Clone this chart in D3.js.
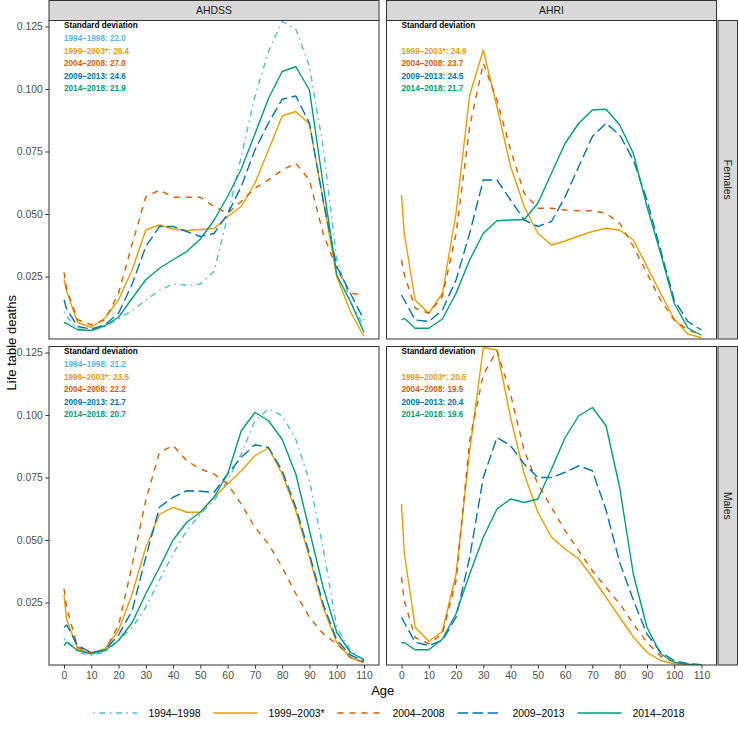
<!DOCTYPE html>
<html><head><meta charset="utf-8">
<script src="https://cdn.jsdelivr.net/npm/d3@7"></script>
<style>
body{margin:0;background:#fff}
svg{display:block;font-family:"Liberation Sans",Arial,Helvetica,sans-serif}
</style>
</head><body>
<svg id="chart" width="738" height="729"></svg>
<script>
// ---------- data ----------
const ages = [0,1,5,10,15,20,25,30,35,40,45,50,55,60,65,70,75,80,85,90,95,100,105,110];
const periods = ["1994–1998","1999–2003*","2004–2008","2009–2013","2014–2018"];
const sites = ["AHDSS","AHRI"];
const sexes = ["Females","Males"];
const xTicks = [0,10,20,30,40,50,60,70,80,90,100,110];
const yTicks = [0.025,0.050,0.075,0.100,0.125];

// AHDSS Females
const ahdssF1994 = [0.011,0.009,0.004,0.0035,0.005,0.008,0.0115,0.0155,0.0195,0.022,0.0215,0.022,0.027,0.049,0.073,0.097,0.115,0.127,0.124,0.109,0.077,0.032,0.015,0.005];
const ahdssF1999 = [0.0239,0.019,0.0066,0.0047,0.0083,0.0157,0.0277,0.0436,0.0456,0.044,0.0434,0.0438,0.0442,0.049,0.053,0.0623,0.0756,0.0892,0.091,0.086,0.0556,0.025,0.011,0.001];
const ahdssF2004 = [0.0267,0.020,0.0077,0.0057,0.0077,0.0183,0.038,0.0569,0.0596,0.0567,0.0567,0.0567,0.053,0.0503,0.055,0.0603,0.0636,0.0676,0.0703,0.0636,0.0423,0.028,0.0183,0.0177];
const ahdssF2009 = [0.0157,0.012,0.005,0.004,0.0057,0.0103,0.022,0.037,0.045,0.045,0.043,0.041,0.0422,0.050,0.061,0.0756,0.0865,0.0959,0.0972,0.0863,0.0556,0.029,0.0183,0.0076];
const ahdssF2014 = [0.0066,0.0062,0.0037,0.0034,0.0053,0.0087,0.0163,0.0237,0.0283,0.0317,0.035,0.040,0.0475,0.057,0.068,0.082,0.0963,0.107,0.1089,0.0996,0.062,0.0256,0.015,0.0027];
// AHRI Females
const ahriF1999 = [0.0576,0.0423,0.0156,0.0103,0.0183,0.0503,0.0976,0.1156,0.0929,0.069,0.053,0.0423,0.0376,0.0392,0.0412,0.043,0.0443,0.0436,0.0396,0.029,0.0183,0.008,0.002,0.0005];
const ahriF2004 = [0.0316,0.026,0.0123,0.0103,0.017,0.042,0.085,0.1103,0.0956,0.0756,0.0583,0.0523,0.0523,0.0516,0.0513,0.0513,0.0503,0.0463,0.037,0.0263,0.0156,0.0076,0.0036,0.0016];
const ahriF2009 = [0.0176,0.0156,0.0076,0.007,0.0116,0.0236,0.0423,0.0636,0.0636,0.0556,0.0476,0.045,0.047,0.0569,0.069,0.081,0.0863,0.0816,0.0716,0.0556,0.0356,0.0156,0.007,0.0036];
const ahriF2014 = [0.0076,0.0083,0.0043,0.0043,0.008,0.0183,0.0316,0.0423,0.0473,0.0476,0.0478,0.0543,0.0663,0.0783,0.0863,0.0916,0.0919,0.0856,0.0743,0.053,0.0343,0.0143,0.0044,0.0015];
// AHDSS Males
const ahdssM1994 = [0.0105,0.010,0.0051,0.0038,0.0051,0.0098,0.015,0.0231,0.034,0.0444,0.0538,0.0604,0.0657,0.0737,0.0844,0.0977,0.1024,0.0997,0.0903,0.0737,0.047,0.015,0.006,0.002];
const ahdssM1999 = [0.028,0.018,0.0065,0.0045,0.0065,0.0138,0.0285,0.0471,0.0602,0.0631,0.0611,0.0611,0.0671,0.0724,0.0777,0.0837,0.0868,0.0764,0.0617,0.0431,0.0231,0.009,0.003,0.001];
const ahdssM2004 = [0.0305,0.023,0.0071,0.005,0.0058,0.0158,0.040,0.066,0.085,0.0878,0.0817,0.0784,0.0764,0.0724,0.0644,0.0551,0.0484,0.0391,0.0285,0.0191,0.0125,0.0085,0.003,0.001];
const ahdssM2009 = [0.0151,0.016,0.0078,0.005,0.006,0.012,0.0218,0.0431,0.0631,0.0671,0.0697,0.0695,0.069,0.0764,0.0831,0.0881,0.087,0.0777,0.0631,0.0444,0.0245,0.010,0.004,0.0015];
const ahdssM2014 = [0.0078,0.0091,0.0058,0.0045,0.0058,0.0098,0.017,0.0285,0.039,0.050,0.0571,0.0611,0.0671,0.0764,0.0937,0.101,0.0977,0.0903,0.0764,0.0538,0.0311,0.0131,0.0051,0.0021];
// AHRI Males
const ahriM1999 = [0.0644,0.0451,0.0151,0.0095,0.0135,0.0364,0.0857,0.127,0.126,0.099,0.0764,0.0611,0.0511,0.0464,0.0424,0.0351,0.0271,0.0191,0.0112,0.0051,0.0018,0.0005,0.0002,0.0001];
const ahriM2004 = [0.0351,0.0258,0.011,0.0085,0.0125,0.0338,0.0897,0.1163,0.1257,0.1083,0.0857,0.0724,0.063,0.0537,0.0457,0.0377,0.031,0.0245,0.0165,0.009,0.0035,0.0012,0.0004,0.0001];
const ahriM2009 = [0.0191,0.017,0.0091,0.0078,0.0098,0.0191,0.0431,0.075,0.091,0.0877,0.0804,0.075,0.075,0.0771,0.0797,0.0777,0.062,0.041,0.026,0.0124,0.0052,0.0018,0.0005,0.0001];
const ahriM2014 = [0.0088,0.009,0.0061,0.0061,0.0104,0.0205,0.0364,0.0511,0.0624,0.0664,0.065,0.0664,0.0784,0.091,0.0997,0.103,0.0957,0.071,0.0364,0.0151,0.0045,0.0011,0.0003,0.0001];

// standard deviations (null = period not available)
const sdAhdssF = [22.0,26.4,27.0,24.6,21.9];
const sdAhriF  = [null,24.9,23.7,24.5,21.7];
const sdAhdssM = [21.2,23.5,22.2,21.7,20.7];
const sdAhriM  = [null,20.5,19.5,20.4,19.6];

// ---------- styles ----------
const colors = ["#56B4E9","#E69F00","#D55E00","#0072B2","#009E73"];
const dashArr = ["1.5,4.5,6,4.5", null, "6,6", "10.5,4.5", null];

const panels = [
  {site:0, sex:0, series:[ahdssF1994,ahdssF1999,ahdssF2004,ahdssF2009,ahdssF2014], sd:sdAhdssF},
  {site:1, sex:0, series:[null,ahriF1999,ahriF2004,ahriF2009,ahriF2014], sd:sdAhriF},
  {site:0, sex:1, series:[ahdssM1994,ahdssM1999,ahdssM2004,ahdssM2009,ahdssM2014], sd:sdAhdssM},
  {site:1, sex:1, series:[null,ahriM1999,ahriM2004,ahriM2009,ahriM2014], sd:sdAhriM}
];

// ---------- layout ----------
const svg = d3.select("#chart");
const colX = [49, 386.5], panelW = 330;
const rowY = [20.5, 346.5], panelH = 318.5;
const stripH = 20, rStripX = 718, rStripW = 19.5;
const border = "#333333";

const xScales = colX.map(x0 => d3.scaleLinear().domain([-5.5,115.5]).range([x0, x0+panelW]));
const yScales = rowY.map(y0 => d3.scaleLinear().domain([0,0.1274]).range([y0+panelH, y0]));

const defs = svg.append("defs");

panels.forEach((p,pi) => {
  const xs = xScales[p.site], ys = yScales[p.sex];
  const x0 = colX[p.site], y0 = rowY[p.sex];
  defs.append("clipPath").attr("id","clip"+pi)
    .append("rect").attr("x",x0).attr("y",y0).attr("width",panelW).attr("height",panelH);
  const g = svg.append("g");
  g.append("rect").attr("x",x0).attr("y",y0).attr("width",panelW).attr("height",panelH).attr("fill","#fff");
  const line = d3.line().x((d,i)=>xs(ages[i])).y(d=>ys(d));
  const lg = g.append("g").attr("clip-path","url(#clip"+pi+")");
  p.series.forEach((s,si) => {
    if(!s) return;
    lg.append("path").attr("d", line(s)).attr("fill","none")
      .attr("stroke", colors[si]).attr("stroke-width",1.4)
      .attr("stroke-linejoin","round").attr("stroke-linecap","butt")
      .attr("stroke-dasharray", dashArr[si]);
  });
  // annotation
  const ax = xs(0);
  g.append("text").attr("x",ax).attr("y",y0+5+2.9).attr("font-size",8.2).attr("font-weight","bold")
    .attr("fill","#000").text("Standard deviation");
  p.sd.forEach((v,si) => {
    if(v===null) return;
    g.append("text").attr("x",ax).attr("y",y0+5+(si+1)*12.6+2.9).attr("font-size",8.2)
      .attr("font-weight","bold").attr("fill",colors[si]).text(periods[si]+": "+v.toFixed(1));
  });
  g.append("rect").attr("x",x0).attr("y",y0).attr("width",panelW).attr("height",panelH)
    .attr("fill","none").attr("stroke",border).attr("stroke-width",1);

  // axes
  if(p.site===0){
    const ya = svg.append("g").attr("transform",`translate(${x0},0)`)
      .call(d3.axisLeft(ys).tickValues(yTicks).tickFormat(d3.format(".3f")).tickSize(3.7).tickPadding(2.5));
    ya.select(".domain").remove();
    ya.selectAll("line").attr("stroke",border);
    ya.selectAll("text").attr("fill","#4D4D4D").attr("font-size",10.4).attr("font-family","Liberation Sans, Arial, sans-serif");
  }
  if(p.sex===1){
    const xa = svg.append("g").attr("transform",`translate(0,${y0+panelH})`)
      .call(d3.axisBottom(xs).tickValues(xTicks).tickSize(3.7).tickPadding(2.5));
    xa.select(".domain").remove();
    xa.selectAll("line").attr("stroke",border);
    xa.selectAll("text").attr("fill","#4D4D4D").attr("font-size",10.4).attr("font-family","Liberation Sans, Arial, sans-serif");
  }
});

// top strips
sites.forEach((s,i) => {
  svg.append("rect").attr("x",colX[i]).attr("y",0.5).attr("width",panelW).attr("height",stripH)
    .attr("fill","#D9D9D9").attr("stroke",border).attr("stroke-width",1);
  svg.append("text").attr("x",colX[i]+panelW/2).attr("y",0.5+stripH/2+3.7)
    .attr("text-anchor","middle").attr("font-size",10.4).attr("fill","#1A1A1A").text(s);
});
// right strips
sexes.forEach((s,i) => {
  svg.append("rect").attr("x",rStripX).attr("y",rowY[i]).attr("width",rStripW).attr("height",panelH)
    .attr("fill","#D9D9D9").attr("stroke",border).attr("stroke-width",1);
  const cx = rStripX + rStripW/2, cy = rowY[i]+panelH/2;
  svg.append("text").attr("transform",`translate(${cx-3.7},${cy}) rotate(90)`)
    .attr("text-anchor","middle").attr("font-size",10.4).attr("fill","#1A1A1A").text(s);
});

// axis titles
svg.append("text").attr("x",(colX[0]+colX[1]+panelW)/2).attr("y",695)
  .attr("text-anchor","middle").attr("font-size",13).attr("fill","#000").text("Age");
svg.append("text").attr("transform",`translate(${15.5},${(rowY[0]+rowY[1]+panelH)/2}) rotate(-90)`)
  .attr("text-anchor","middle").attr("font-size",13).attr("fill","#000").text("Life table deaths");

// legend
const legY = 713, keyW = 44, keyGap = 11, itemGap = 13;
const lgG = svg.append("g");
const items = periods.map((p,i) => {
  const t = lgG.append("text").attr("y",legY+3.7).attr("font-size",10.4).attr("fill","#000").text(p);
  return {t, w: t.node().getComputedTextLength(), i};
});
const total = items.reduce((a,it)=>a+keyW+keyGap+it.w,0) + itemGap*(items.length-1);
let cx = 389 - total/2;
items.forEach(it => {
  lgG.append("line").attr("x1",cx).attr("x2",cx+keyW).attr("y1",legY).attr("y2",legY)
    .attr("stroke",colors[it.i]).attr("stroke-width",1.4).attr("stroke-dasharray",dashArr[it.i]);
  it.t.attr("x",cx+keyW+keyGap);
  cx += keyW+keyGap+it.w+itemGap;
});
</script>
</body></html>
